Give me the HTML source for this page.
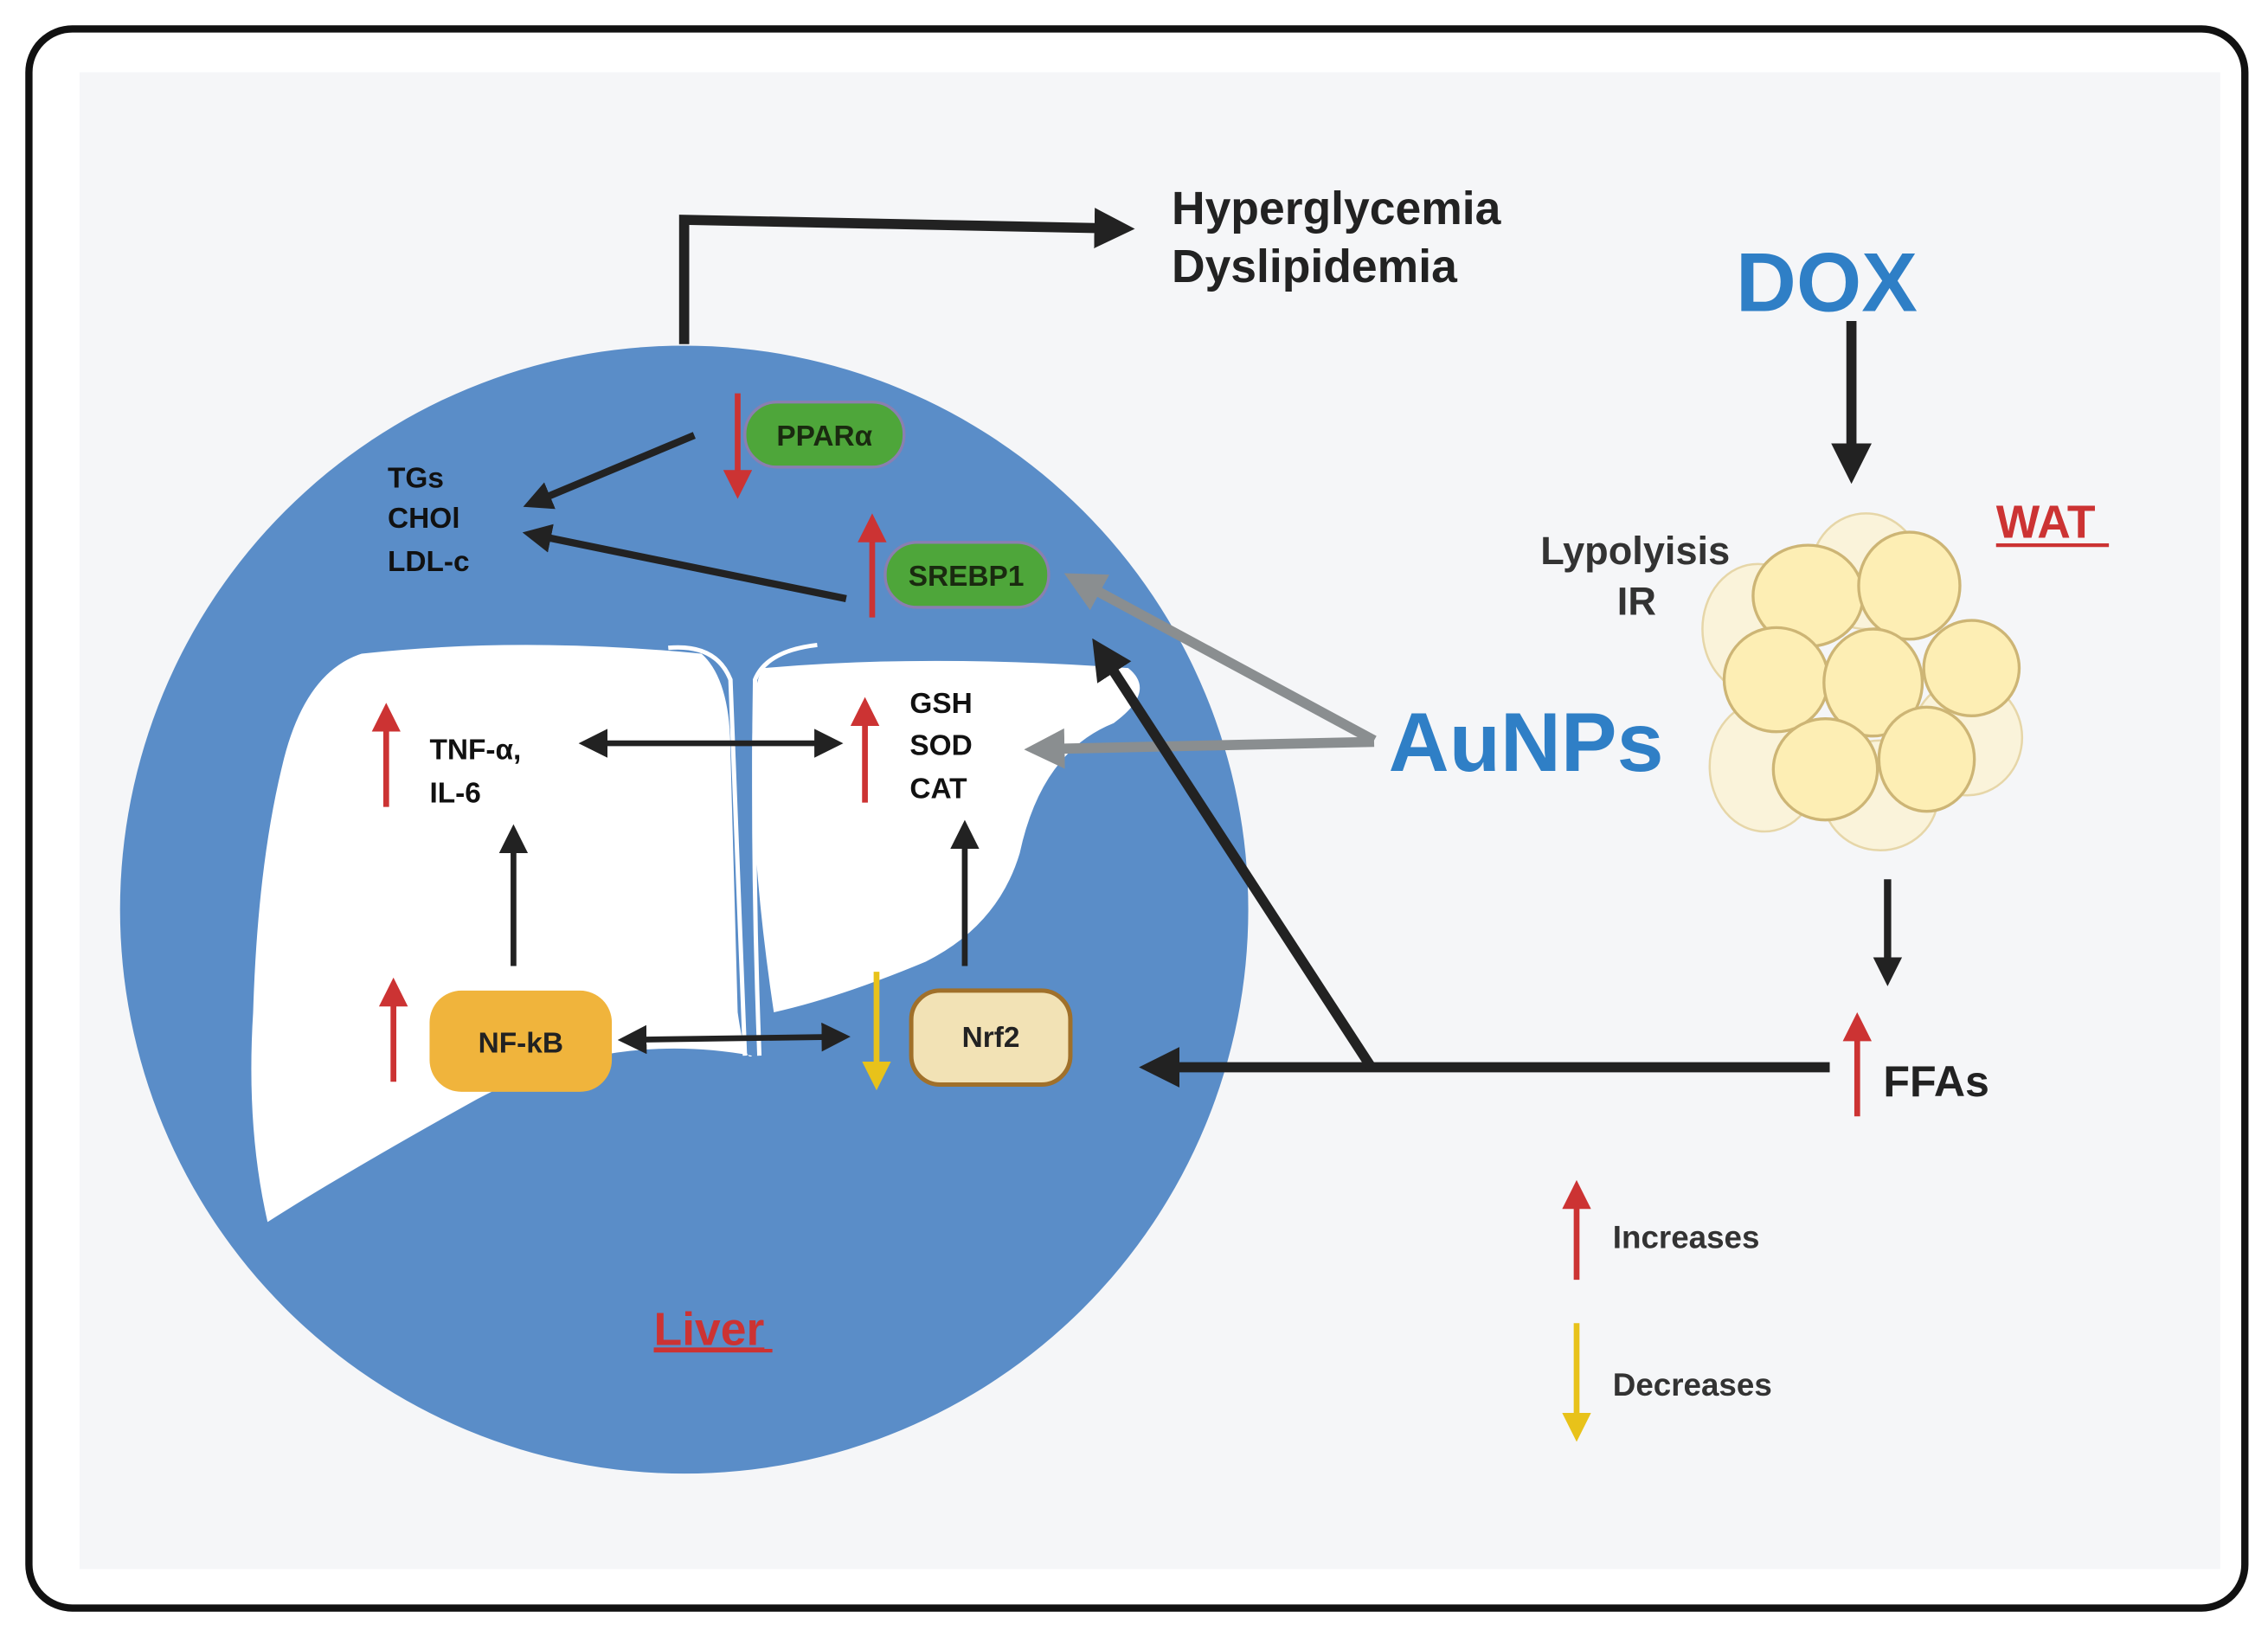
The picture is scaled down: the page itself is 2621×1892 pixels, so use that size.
<!DOCTYPE html>
<html><head><meta charset="utf-8"><style>
html,body{margin:0;padding:0;background:#fff;}
svg{display:block;}
text{font-family:"Liberation Sans",sans-serif;font-weight:bold;}
</style></head><body>
<svg width="2621" height="1892" viewBox="0 0 1568 1132" preserveAspectRatio="none" xmlns="http://www.w3.org/2000/svg">
<defs>
<marker id="ab" markerWidth="4" markerHeight="4" refX="2.2" refY="2" orient="auto" markerUnits="strokeWidth"><path d="M0,0 L4,2 L0,4 Z" fill="#222"/></marker>
<marker id="abs" markerWidth="5" markerHeight="5" refX="2.5" refY="2.5" orient="auto-start-reverse" markerUnits="strokeWidth"><path d="M0,0 L5,2.5 L0,5 Z" fill="#222"/></marker>
<marker id="ag" markerWidth="4" markerHeight="4" refX="2" refY="2" orient="auto" markerUnits="strokeWidth"><path d="M0,0 L4,2 L0,4 Z" fill="#8a8e90"/></marker>
<marker id="ar" markerWidth="5" markerHeight="5" refX="2" refY="2.5" orient="auto" markerUnits="strokeWidth"><path d="M0,0 L5,2.5 L0,5 Z" fill="#cc3333"/></marker>
<marker id="ay" markerWidth="5" markerHeight="5" refX="2" refY="2.5" orient="auto" markerUnits="strokeWidth"><path d="M0,0 L5,2.5 L0,5 Z" fill="#e8c21a"/></marker>
</defs>
<rect x="20" y="20" width="1532" height="1092" rx="30" fill="#fff" stroke="#111" stroke-width="5"/>
<rect x="55" y="50" width="1480" height="1035" fill="#f5f6f8"/>
<circle cx="473" cy="629" r="390" fill="#5a8dc8"/>
<!-- liver -->
<path d="M250,452 Q360,440 485,452 Q505,470 505,520 L510,700 Q515,735 520,730 Q420,712 330,760 Q240,810 185,845 Q170,780 175,700 Q178,600 195,530 Q210,465 250,452 Z" fill="#fff"/>
<path d="M528,462 Q640,452 780,462 Q800,478 770,500 Q720,520 705,590 Q690,640 640,665 Q580,690 535,700 Q520,600 520,520 Q520,470 528,462 Z" fill="#fff"/>
<path d="M462,448 Q495,445 505,470 Q510,600 515,730 M525,730 Q520,600 522,470 Q530,450 565,446" stroke="#fff" stroke-width="3" fill="none"/>
<!-- top arrow -->
<path d="M473,238 L473,152 L772,158" stroke="#222" stroke-width="7" fill="none" marker-end="url(#ab)"/>
<text x="810" y="155" font-size="32" fill="#222">Hyperglycemia</text>
<text x="810" y="195" font-size="32" fill="#222">Dyslipidemia</text>
<!-- PPAR / SREBP -->
<line x1="480" y1="301" x2="370" y2="347" stroke="#222" stroke-width="5" marker-end="url(#ab)"/>
<line x1="585" y1="414" x2="370" y2="370" stroke="#222" stroke-width="5" marker-end="url(#ab)"/>
<text x="268" y="337" font-size="20" fill="#111">TGs</text>
<text x="268" y="365" font-size="20" fill="#111">CHOl</text>
<text x="268" y="395" font-size="20" fill="#111">LDL-c</text>
<rect x="515" y="278" width="110" height="45" rx="22" fill="#4ea63a" stroke="#8a7fb0" stroke-width="2"/>
<text x="570" y="308" font-size="20" fill="#1a2a10" text-anchor="middle" font-weight="normal">PPARα</text>
<line x1="510" y1="272" x2="510" y2="333" stroke="#cc3333" stroke-width="4" marker-end="url(#ar)"/>
<rect x="612" y="375" width="113" height="45" rx="22" fill="#4ea63a" stroke="#8a7fb0" stroke-width="2"/>
<text x="668" y="405" font-size="20" fill="#1a2a10" text-anchor="middle" font-weight="normal">SREBP1</text>
<line x1="603" y1="427" x2="603" y2="367" stroke="#cc3333" stroke-width="4" marker-end="url(#ar)"/>
<!-- AuNPs gray arrows -->
<line x1="950" y1="512" x2="748" y2="403" stroke="#8a8e90" stroke-width="7" marker-end="url(#ag)"/>
<line x1="950" y1="513" x2="722" y2="518" stroke="#8a8e90" stroke-width="7" marker-end="url(#ag)"/>
<text x="960" y="533" font-size="58" fill="#2f7fc6">AuNPs</text>
<!-- FFA big arrows -->
<line x1="1265" y1="738" x2="800" y2="738" stroke="#222" stroke-width="7" marker-end="url(#ab)"/>
<line x1="948" y1="738" x2="762" y2="452" stroke="#222" stroke-width="7" marker-end="url(#ab)"/>
<!-- inner liver -->
<line x1="267" y1="558" x2="267" y2="498" stroke="#cc3333" stroke-width="4" marker-end="url(#ar)"/>
<text x="297" y="525" font-size="20" fill="#111">TNF-α,</text>
<text x="297" y="555" font-size="20" fill="#111">IL-6</text>
<line x1="410" y1="514" x2="573" y2="514" stroke="#222" stroke-width="4" marker-start="url(#abs)" marker-end="url(#abs)"/>
<line x1="598" y1="555" x2="598" y2="494" stroke="#cc3333" stroke-width="4" marker-end="url(#ar)"/>
<text x="629" y="493" font-size="20" fill="#111">GSH</text>
<text x="629" y="522" font-size="20" fill="#111">SOD</text>
<text x="629" y="552" font-size="20" fill="#111">CAT</text>
<line x1="355" y1="668" x2="355" y2="580" stroke="#222" stroke-width="4" marker-end="url(#abs)"/>
<line x1="667" y1="668" x2="667" y2="577" stroke="#222" stroke-width="4" marker-end="url(#abs)"/>
<rect x="297" y="685" width="126" height="70" rx="22" fill="#f0b43c"/>
<text x="360" y="728" font-size="20" fill="#222" text-anchor="middle" font-weight="normal">NF-kB</text>
<line x1="272" y1="748" x2="272" y2="688" stroke="#cc3333" stroke-width="4" marker-end="url(#ar)"/>
<line x1="437" y1="719" x2="578" y2="717" stroke="#222" stroke-width="4" marker-start="url(#abs)" marker-end="url(#abs)"/>
<line x1="606" y1="672" x2="606" y2="742" stroke="#e8c21a" stroke-width="4" marker-end="url(#ay)"/>
<rect x="630" y="685" width="110" height="65" rx="20" fill="#f2e2b5" stroke="#a0702a" stroke-width="3"/>
<text x="685" y="724" font-size="20" fill="#222" text-anchor="middle" font-weight="normal">Nrf2</text>
<text x="452" y="930" font-size="32" fill="#cc3333" text-decoration="underline">Liver</text>
<line x1="452" y1="934" x2="534" y2="934" stroke="#cc3333" stroke-width="2.5"/>
<!-- right side -->
<text x="1200" y="215" font-size="58" fill="#2f7fc6">DOX</text>
<line x1="1280" y1="222" x2="1280" y2="322" stroke="#222" stroke-width="7" marker-end="url(#ab)"/>
<text x="1065" y="390" font-size="27" fill="#333">Lypolyisis</text>
<text x="1118" y="425" font-size="27" fill="#333">IR</text>
<text x="1380" y="372" font-size="32" fill="#cc3333">WAT</text>
<line x1="1380" y1="377" x2="1458" y2="377" stroke="#cc3333" stroke-width="2.5"/>
<g stroke="#e6d6a8" stroke-width="1.5" fill="#faf3da">
<ellipse cx="1290" cy="395" rx="38" ry="40"/>
<ellipse cx="1215" cy="435" rx="38" ry="45"/>
<ellipse cx="1220" cy="530" rx="38" ry="45"/>
<ellipse cx="1360" cy="510" rx="38" ry="40"/>
<ellipse cx="1300" cy="550" rx="40" ry="38"/>
</g>
<g stroke="#cdb575" stroke-width="2" fill="#fdeeb4">
<ellipse cx="1250" cy="412" rx="38" ry="35"/>
<ellipse cx="1320" cy="405" rx="35" ry="37"/>
<ellipse cx="1228" cy="470" rx="36" ry="36"/>
<ellipse cx="1295" cy="472" rx="34" ry="37"/>
<ellipse cx="1363" cy="462" rx="33" ry="33"/>
<ellipse cx="1262" cy="532" rx="36" ry="35"/>
<ellipse cx="1332" cy="525" rx="33" ry="36"/>
</g>
<line x1="1305" y1="608" x2="1305" y2="673" stroke="#222" stroke-width="5" marker-end="url(#ab)"/>
<line x1="1284" y1="772" x2="1284" y2="712" stroke="#cc3333" stroke-width="4" marker-end="url(#ar)"/>
<text x="1302" y="758" font-size="30" fill="#222" font-weight="normal">FFAs</text>
<line x1="1090" y1="885" x2="1090" y2="828" stroke="#cc3333" stroke-width="4" marker-end="url(#ar)"/>
<text x="1115" y="863" font-size="22" fill="#333">Increases</text>
<line x1="1090" y1="915" x2="1090" y2="985" stroke="#e8c21a" stroke-width="4" marker-end="url(#ay)"/>
<text x="1115" y="965" font-size="22" fill="#333">Decreases</text>
</svg>
</body></html>
